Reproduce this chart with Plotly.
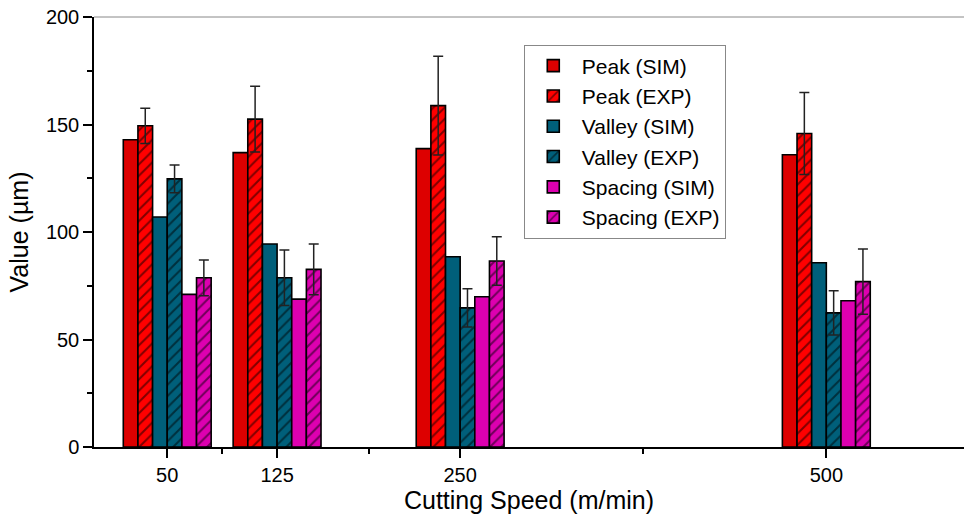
import plotly.graph_objects as go

speeds = [50, 125, 250, 500]
series_names = ["Peak (SIM)", "Peak (EXP)", "Valley (SIM)", "Valley (EXP)", "Spacing (SIM)", "Spacing (EXP)"]
peak_sim = [142.9, 136.9, 138.8, 135.9]
peak_exp = [149.4, 152.5, 158.8, 145.8]
peak_exp_err = [8.2, 15.3, 23.0, 19.1]
valley_sim = [107.0, 94.4, 88.5, 85.7]
valley_exp = [124.7, 78.7, 64.7, 62.4]
valley_exp_err = [6.5, 12.9, 8.9, 10.3]
spacing_sim = [71.0, 68.8, 69.9, 68.0]
spacing_exp = [78.7, 82.6, 86.5, 76.9]
spacing_exp_err = [8.3, 11.8, 11.3, 15.2]
x_tickvals = [50, 125, 250, 500]
x_minor_tickvals = [87.5, 187.5, 375]

values = [peak_sim, peak_exp, valley_sim, valley_exp, spacing_sim, spacing_exp]
errors = [None, peak_exp_err, None, valley_exp_err, None, spacing_exp_err]
colors = ["#DD0000", "#FF0000", "#005F7A", "#005F7A", "#DD00B0", "#DD00B0"]
hatched = [False, True, False, True, False, True]

BAR_W = 10
fig = go.Figure()
for i, name in enumerate(series_names):
    marker = dict(color=colors[i], line=dict(color="black", width=1.6))
    if hatched[i]:
        marker["pattern"] = dict(shape="/", fgcolor="black", size=8, solidity=0.25,
                                 fillmode="overlay")
    kw = {}
    if errors[i] is not None:
        kw["error_y"] = dict(type="data", array=errors[i], visible=True,
                             color="#222222", thickness=1.5, width=5)
    fig.add_trace(go.Bar(
        x=speeds, y=values[i], name=name, width=BAR_W,
        offset=-3 * BAR_W + i * BAR_W, marker=marker, **kw))

fig.update_layout(
    width=964, height=518,
    margin=dict(l=94, r=0, t=17, b=71, autoexpand=False),
    paper_bgcolor="white", plot_bgcolor="white",
    font=dict(family="Liberation Sans, Arial, sans-serif", color="black", size=20),
    barmode="overlay",
    showlegend=True,
    legend=dict(x=0.494, y=0.936, xanchor="left", yanchor="top",
                bordercolor="#888888", borderwidth=1, bgcolor="white",
                font=dict(size=21), tracegroupgap=0, itemwidth=47),
    xaxis=dict(range=[0, 594], tickmode="array", tickvals=x_tickvals,
               ticktext=[str(v) for v in x_tickvals],
               showgrid=False, zeroline=False, showline=True, linecolor="black",
               linewidth=1.5, ticks="outside", ticklen=9, tickwidth=1.5,
               tickcolor="black", tickfont=dict(size=20),
               minor=dict(tickmode="array", tickvals=x_minor_tickvals,
                          ticks="outside", ticklen=5, tickwidth=1.5, tickcolor="black",
                          showgrid=False),
               title=dict(text="Cutting Speed (m/min)", font=dict(size=25), standoff=2)),
    yaxis=dict(range=[0, 200], tickmode="linear", tick0=0, dtick=50,
               showgrid=False, zeroline=False, showline=True, linecolor="black",
               linewidth=1.5, ticks="outside", ticklen=9, tickwidth=1.5,
               tickcolor="black", tickfont=dict(size=20),
               minor=dict(dtick=25, ticks="outside", ticklen=5, tickwidth=1.5,
                          tickcolor="black", showgrid=False),
               title=dict(text="Value (µm)", font=dict(size=25), standoff=10)),
    shapes=[dict(type="line", xref="paper", yref="paper", x0=0, x1=1, y0=1, y1=1,
                 line=dict(color="#888888", width=1))],
)

fig.write_html("out.html", config={"displayModeBar": False},
               post_script="document.body.style.margin='0';document.body.style.padding='0';")
